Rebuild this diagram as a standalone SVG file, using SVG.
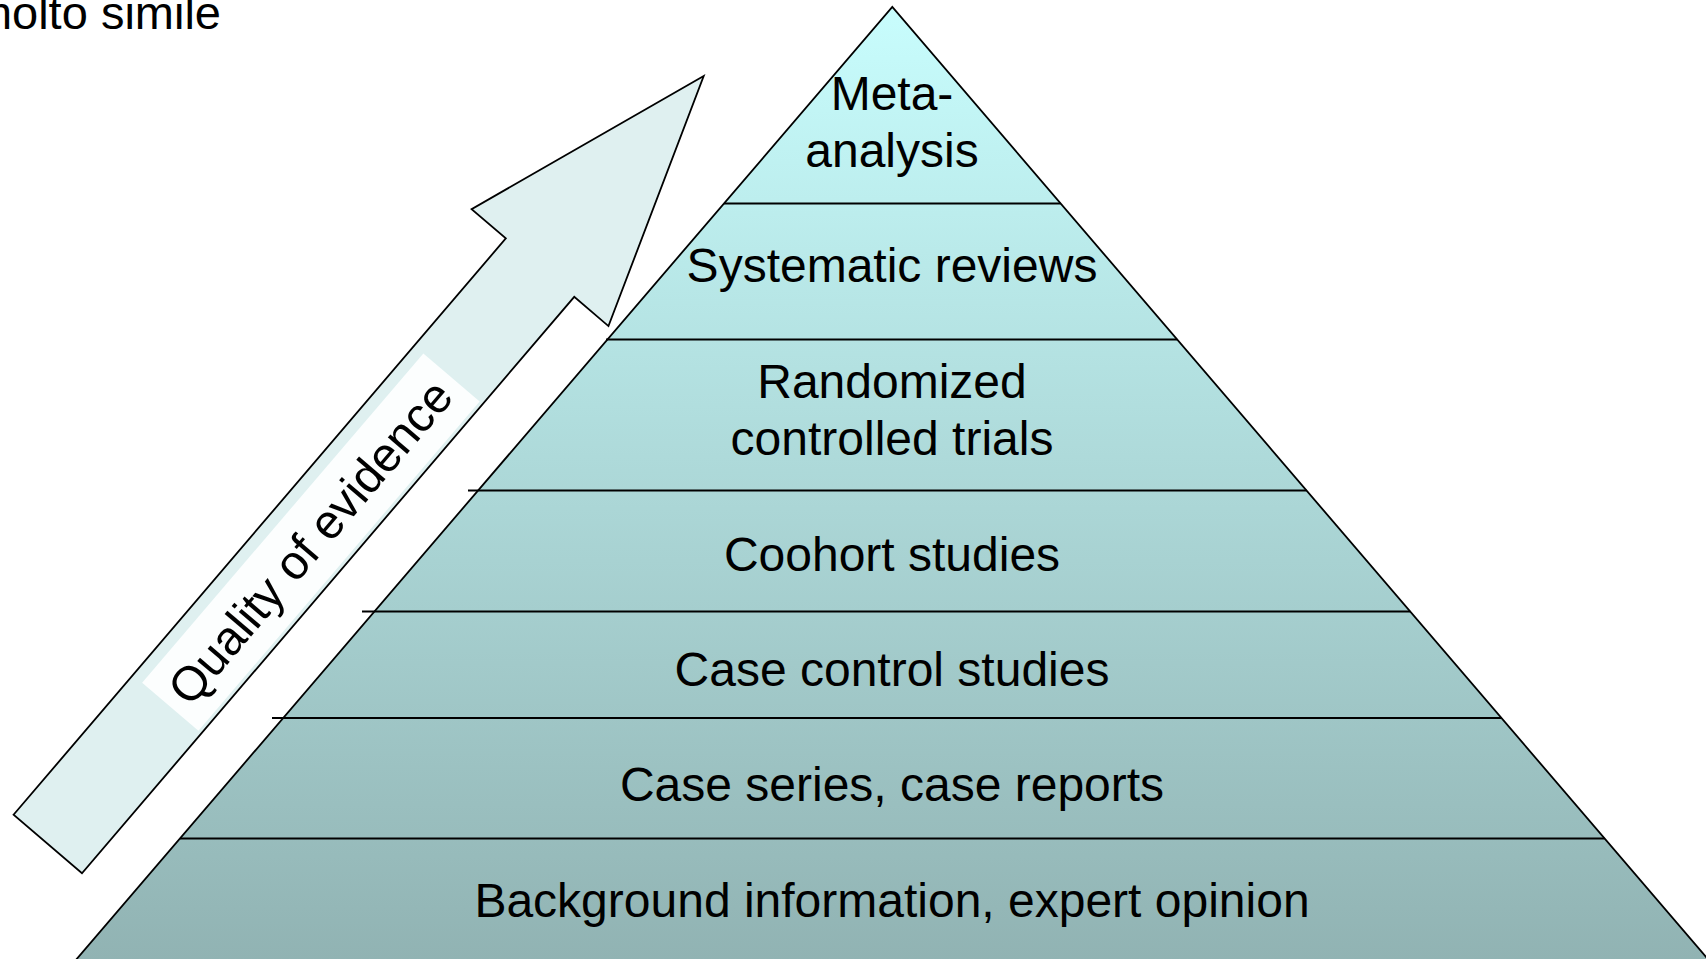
<svg xmlns="http://www.w3.org/2000/svg" width="1706" height="959" viewBox="0 0 1706 959">
<style>
text{font-family:"Liberation Sans",Arial,sans-serif;fill:#000}
.lbl{font-size:48px;text-anchor:middle}
.band{fill:url(#grad);stroke:none}
.sep{stroke:#000;stroke-width:2;fill:none}
.edge{stroke:#000;stroke-width:1.8;fill:none;stroke-linejoin:miter}
</style>
<defs>
<linearGradient id="grad" gradientUnits="userSpaceOnUse" x1="0" y1="7" x2="0" y2="959">
<stop offset="0" stop-color="#c8fdfd"/>
<stop offset="1" stop-color="#91b3b3"/>
</linearGradient>
</defs>
<rect width="1706" height="959" fill="#ffffff"/>
<g id="caption">
<text x="221" y="29" font-size="47" text-anchor="end">molto simile</text>
</g>
<g id="arrow" transform="translate(47.75 844) rotate(-49.5)">
<polygon points="0,-45 758,-45 758,-90 1010,0 758,90 758,45 0,45" fill="#dff0f0" stroke="#000" stroke-width="1.8" stroke-linejoin="miter"/>
<rect x="184" y="-33" width="433" height="74" fill="#fcfefe"/>
<text x="400" y="20" font-size="48" text-anchor="middle">Quality of evidence</text>
</g>
<g id="pyramid">
<g id="level-meta">
<polygon class="band" points="892.3,7 724,203.5 1060.6,203.5"/>
<text class="lbl" x="892" y="110">Meta-</text>
<text class="lbl" x="892" y="167">analysis</text>
</g>
<g id="level-systematic">
<polygon class="band" points="724,203.5 1060.6,203.5 1177.1,339.5 607.5,339.5"/>
<text class="lbl" x="892" y="282">Systematic reviews</text>
</g>
<g id="level-rct">
<polygon class="band" points="607.5,339.5 1177.1,339.5 1306.5,490.5 478.1,490.5"/>
<text class="lbl" x="892" y="398">Randomized</text>
<text class="lbl" x="892" y="455">controlled trials</text>
</g>
<g id="level-cohort">
<polygon class="band" points="478.1,490.5 1306.5,490.5 1410.2,611.5 374.4,611.5"/>
<text class="lbl" x="892" y="571">Coohort studies</text>
</g>
<g id="level-casecontrol">
<polygon class="band" points="374.4,611.5 1410.2,611.5 1501.4,718 283.2,718"/>
<text class="lbl" x="892" y="686">Case control studies</text>
</g>
<g id="level-caseseries">
<polygon class="band" points="283.2,718 1501.4,718 1604.6,838.5 180,838.5"/>
<text class="lbl" x="892" y="801">Case series, case reports</text>
</g>
<g id="level-background">
<polygon class="band" points="180,838.5 1604.6,838.5 1709.6,961 75,961"/>
<text class="lbl" x="892" y="917">Background information, expert opinion</text>
</g>
</g>
<g id="connectors">
<line class="sep" x1="724" y1="203.5" x2="1060.6" y2="203.5"/>
<line class="sep" x1="606" y1="339.5" x2="1177.1" y2="339.5"/>
<line class="sep" x1="468" y1="490.5" x2="1306.5" y2="490.5"/>
<line class="sep" x1="362" y1="611.5" x2="1410.2" y2="611.5"/>
<line class="sep" x1="272" y1="718" x2="1501.4" y2="718"/>
<line class="sep" x1="180" y1="838.5" x2="1604.6" y2="838.5"/>
<polyline class="edge" points="75,961 892.3,7 1709.6,961"/>
</g>
</svg>
